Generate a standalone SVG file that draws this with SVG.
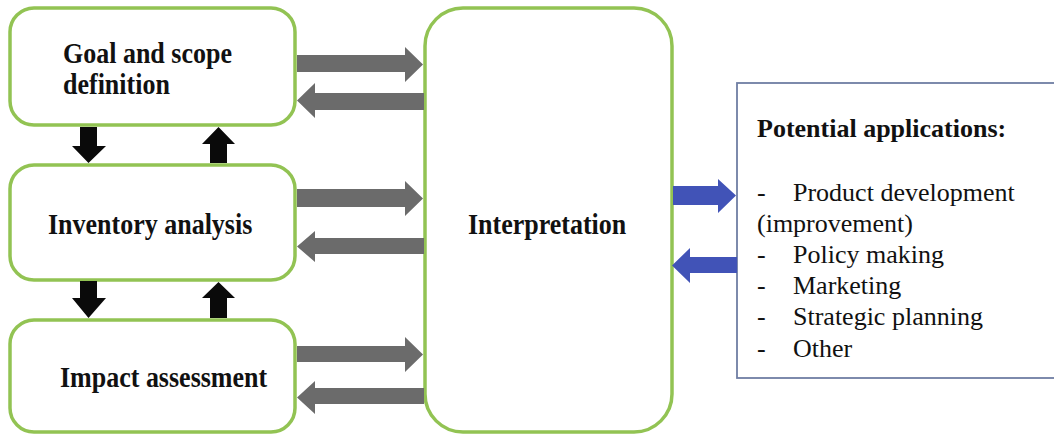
<svg xmlns="http://www.w3.org/2000/svg" width="1054" height="434" viewBox="0 0 1054 434">
  <style>
    .stage { fill: #ffffff; stroke: #92c353; stroke-width: 3.5; }
    .apps { fill: #ffffff; stroke: #6f7ea3; stroke-width: 1.8; }
    .title { font-family: "Liberation Serif", "Times New Roman", serif; font-weight: bold; font-size: 26px; fill: #111; }
    .head { font-family: "Liberation Serif", "Times New Roman", serif; font-weight: bold; font-size: 26px; fill: #111; }
    .item { font-family: "Liberation Serif", "Times New Roman", serif; font-size: 26px; fill: #111; }
    .grey { fill: #6b6b6b; }
    .black { fill: #0a0a0a; }
    .blue { fill: #4153b7; }
  </style>

  <rect width="1054" height="434" fill="#ffffff"/>

  <!-- bold labels are drawn slightly tall: scale(1,1.15) about their baseline -->
  <g id="goal-scope">
    <rect class="stage" x="10" y="8" width="285" height="117" rx="24"/>
    <text class="title" transform="translate(63,63) scale(1,1.15)">Goal and scope</text>
    <text class="title" transform="translate(63,94) scale(1,1.15)">definition</text>
  </g>

  <g id="inventory">
    <rect class="stage" x="10" y="165" width="285" height="115" rx="24"/>
    <text class="title" transform="translate(48,234) scale(1,1.15)">Inventory analysis</text>
  </g>

  <g id="impact">
    <rect class="stage" x="10" y="320" width="285" height="112" rx="24"/>
    <text class="title" transform="translate(60,387) scale(1,1.15)">Impact assessment</text>
  </g>

  <g id="interpretation">
    <rect class="stage" x="425" y="8" width="247" height="424" rx="38"/>
    <text class="title" transform="translate(468,234) scale(1,1.15)">Interpretation</text>
  </g>

  <g id="applications">
    <rect class="apps" x="737" y="83" width="330" height="295"/>
    <text class="head" x="757" y="137">Potential applications:</text>
    <text class="item" x="757" y="201">-</text>
    <text class="item" x="793" y="201">Product development</text>
    <text class="item" x="757" y="232">(improvement)</text>
    <text class="item" x="757" y="263">-</text>
    <text class="item" x="793" y="263">Policy making</text>
    <text class="item" x="757" y="294">-</text>
    <text class="item" x="793" y="294">Marketing</text>
    <text class="item" x="757" y="325">-</text>
    <text class="item" x="793" y="325">Strategic planning</text>
    <text class="item" x="757" y="357">-</text>
    <text class="item" x="793" y="357">Other</text>
  </g>

  <g id="connectors">
    <!-- stage to interpretation (right) and back (left) -->
    <polygon class="grey" points="297,55 405,55 405,47 423,64.5 405,82 405,72 297,72"/>
    <polygon class="grey" points="424,93 315,93 315,83 297,100.5 315,118 315,110 424,110"/>

    <polygon class="grey" points="297,189 405,189 405,181 423,198.5 405,216 405,207 297,207"/>
    <polygon class="grey" points="424,238 315,238 315,231 297,246.5 315,262 315,254 424,254"/>

    <polygon class="grey" points="297,346 405,346 405,337 423,354.5 405,372 405,362 297,362"/>
    <polygon class="grey" points="424,388 315,388 315,381 297,397.5 315,414 315,404 424,404"/>

    <!-- vertical links between stages -->
    <polygon class="black" points="80,127 97,127 97,146 106,146 88.5,163 72,146 80,146"/>
    <polygon class="black" points="210,163 227,163 227,144 235,144 218.5,127 202,144 210,144"/>

    <polygon class="black" points="80,281 97,281 97,298 106,298 88.5,318 72,298 80,298"/>
    <polygon class="black" points="210,318 227,318 227,298 235,298 218.5,282 202,298 210,298"/>

    <!-- interpretation to applications and back -->
    <polygon class="blue" points="673,186 718,186 718,179 736,195.5 718,213 718,205 673,205"/>
    <polygon class="blue" points="737,257 690,257 690,248 672,265.5 690,283 690,273 737,273"/>
  </g>
</svg>
